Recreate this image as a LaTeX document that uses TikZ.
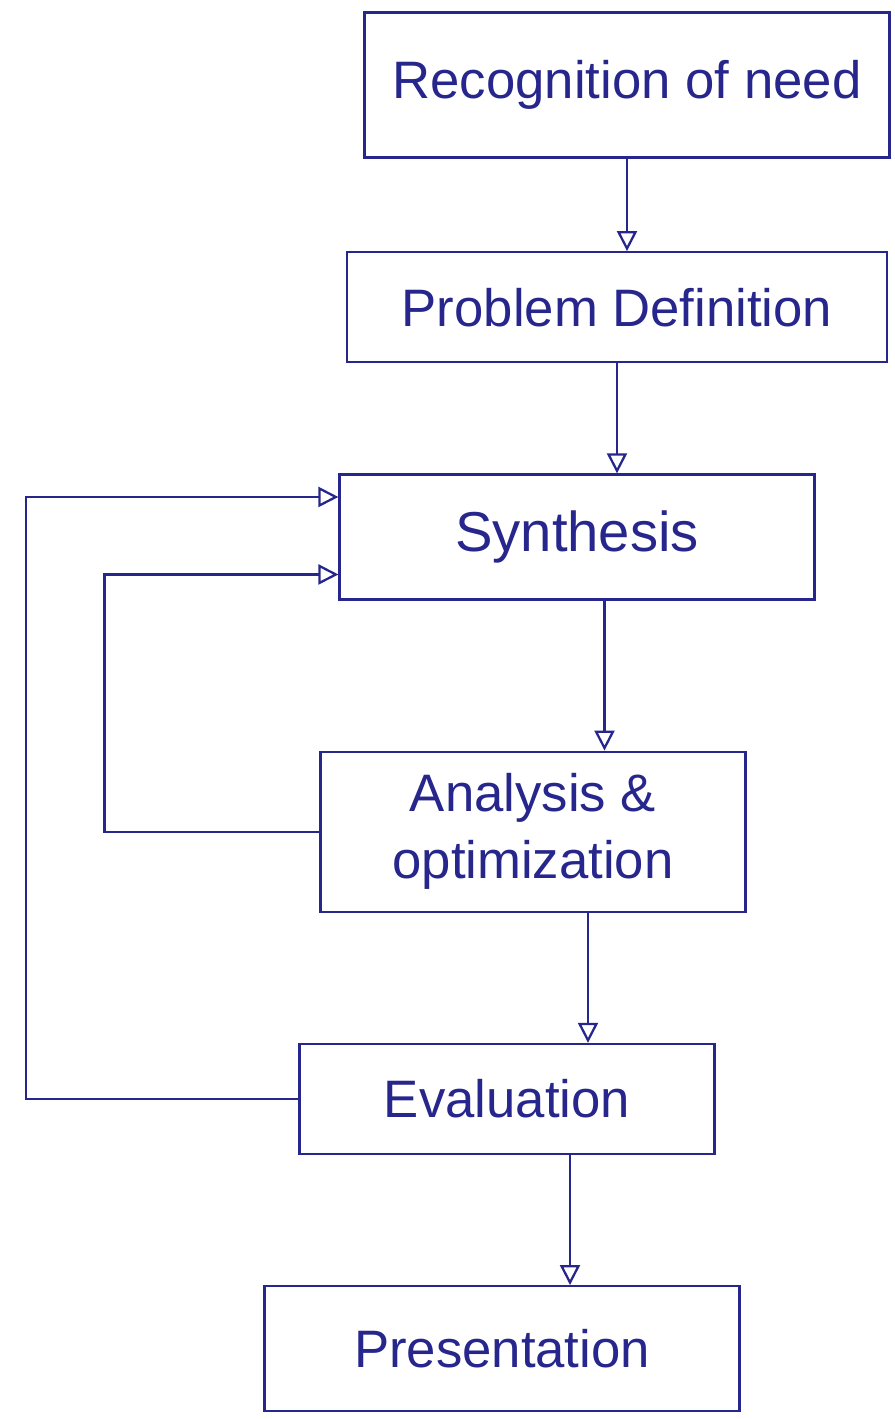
\documentclass[tikz,border=0pt]{standalone}
\usepackage{fontspec}
\setmainfont{Liberation Sans}
\usetikzlibrary{arrows.meta, positioning}
\usepackage{xcolor}
\definecolor{ink}{RGB}{38,38,140}
\tikzstyle{block} = [rectangle, draw=ink, line width=1.3pt, text=ink, align=center, font=\fontsize{30}{38}\selectfont]
\tikzstyle{arrow} = [draw=ink, line width=1.3pt, -{Triangle[open, length=4mm, width=4mm]}]

\begin{document}
\begin{tikzpicture}[x=0.02cm, y=-0.02cm]
  \useasboundingbox (0,0) rectangle (895,1419);

  \node[block, minimum width=10.5cm, minimum height=2.9cm] (need) at (627,85) {Recognition of need};
  \node[block, minimum width=10.8cm, minimum height=2.2cm, below=1.85cm of need, xshift=-0.2cm] (problem) {Problem Definition};
  \node[block, minimum width=9.5cm, minimum height=2.5cm, below=2.2cm of problem, xshift=-0.8cm, font=\fontsize{32}{38}\selectfont] (synth) {Synthesis};
  \node[block, minimum width=8.5cm, minimum height=3.2cm, below=3cm of synth, xshift=-0.88cm] (analysis) {Analysis \&\\optimization};
  \node[block, minimum width=8.3cm, minimum height=2.2cm, below=2.6cm of analysis, xshift=-0.52cm] (eval) {Evaluation};
  \node[block, minimum width=9.5cm, minimum height=2.5cm, below=2.6cm of eval, xshift=-0.1cm] (present) {Presentation};

  % Main flow
  \draw[arrow] (need.south) -- (need.south |- problem.north);
  \draw[arrow] (problem.south) -- (problem.south |- synth.north);
  \draw[arrow] ([xshift=0.55cm]synth.south) -- ([xshift=0.55cm]synth.south |- analysis.north);
  \draw[arrow] ([xshift=1.1cm]analysis.south) -- ([xshift=1.1cm]analysis.south |- eval.north);
  \draw[arrow] ([xshift=1.26cm]eval.south) -- ([xshift=1.26cm]eval.south |- present.north);

  % Feedback loops
  \draw[arrow] (analysis.west) -- ++(-4.3cm,0) |- ([yshift=-0.75cm]synth.west);
  \draw[arrow] (eval.west) -- ++(-5.45cm,0) |- ([yshift=0.8cm]synth.west);
\end{tikzpicture}
\end{document}
